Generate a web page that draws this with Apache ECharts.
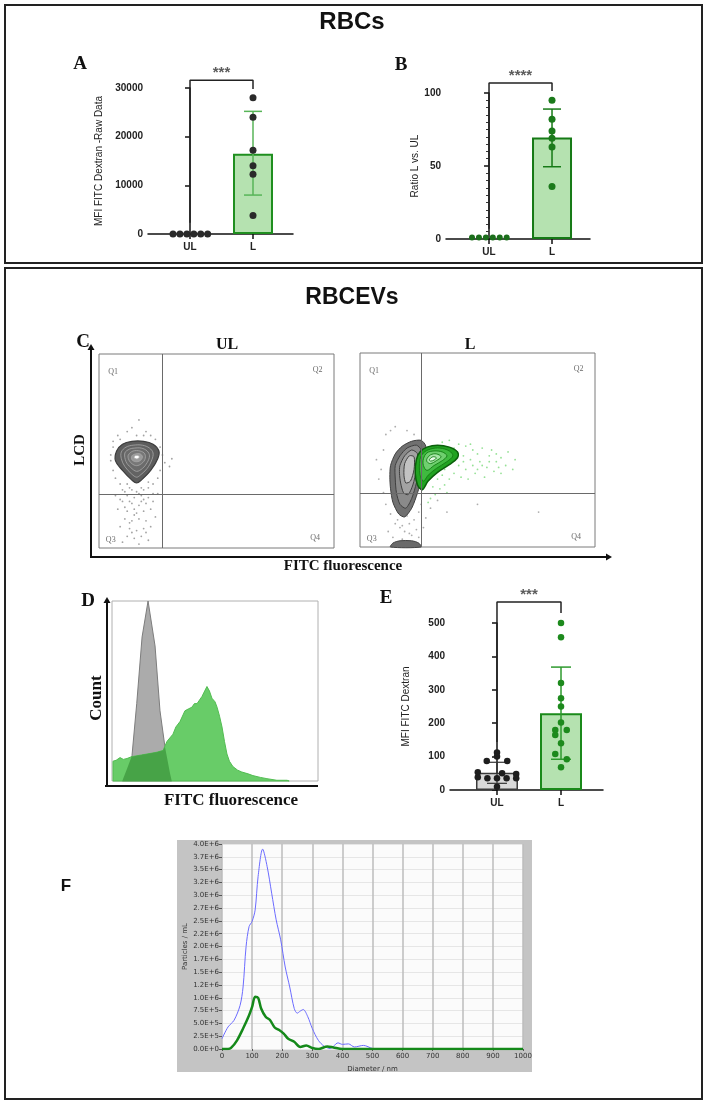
<!DOCTYPE html>
<html>
<head>
<meta charset="utf-8">
<script src="https://cdn.jsdelivr.net/npm/echarts@6/dist/echarts.min.js"></script>
<style>
html, body { margin: 0; padding: 0; background: #fff; }
#main { width: 708px; height: 1105px; }
</style>
</head>
<body>
<div id="main"></div>
<script>
// ---------- data ----------
var groups = ['UL', 'L'];

// A  MFI FITC Dextran - raw data (RBCs)
var aBar = [[1, 16500]];
var aSD = [[1, 8000, 25200]];
var aUL = [[-0.27, 0], [-0.16, 0], [-0.05, 0], [0.06, 0], [0.17, 0], [0.28, 0]];
var aL = [[1, 28000], [1, 24000], [1, 17200], [1, 14000], [1, 12300], [1, 3800]];
var aSig = [[0, 2300], [0, 31600], [1, 31600], [1, 29800]];

// B  ratio L vs UL
var bBar = [[1, 69.5]];
var bSD = [[1, 49.5, 89]];
var bUL = [[-0.27, 1], [-0.16, 1], [-0.05, 1], [0.06, 1], [0.17, 1], [0.28, 1]];
var bL = [[1, 95], [1, 82], [1, 74], [1, 69], [1, 63], [1, 36]];
var bSig = [[0, 7], [0, 106.8], [1, 106.8], [1, 101.4]];

// C  flow plots (0-100 scale)
var ulGate = [26.8, 27.8];
var lGate = [26, 27.8];
var ulContours = [
  [[7.5,50],[10,53.5],[14,55],[19,55],[23,53.5],[25.5,50],[25,46],[22,40],[18,35],[16,33.5],[14,35],[10,40],[7,45]],
  [[9.5,49.5],[11.5,52],[14.5,53],[18.5,53],[21.5,51.5],[23,49],[22.5,45.5],[20.5,41],[17.5,37.5],[16,36.5],[14,38],[11,42],[9.5,46]],
  [[11,49],[13,51],[15,51.5],[18,51.5],[20.5,50],[21.5,47.5],[20.5,44],[18.5,41],[16,39.5],[13.5,41.5],[11.5,44.5]],
  [[12.5,48],[14.5,50],[17.5,50],[19.5,48.5],[19.5,45.5],[17.5,43],[15.5,42.5],[13.5,44],[12.5,46]],
  [[14,47.5],[15.5,48.5],[17.5,48.5],[18.5,47],[17.5,45],[15.5,44.5],[14,45.5]],
  [[15,47.2],[16.2,47.8],[17.2,47],[16.5,46],[15.2,46.2]]
];
var ulDots = [[6,52],[5,45],[6,40],[7,36],[8,58],[9,33],[10,30],[12,60],[14,62],[17,66],[19,58],[22,58],[24,56],[26,52],[27,48],
  [28,44],[30,42],[31,46],[26,40],[25,36],[23,33],[21,31],[19,30],[13,31],[11,29],[5,48],[6,55],[20,60],[16,58],[9,56],
  [12,27],[15,26],[18,27],[21,26],[10,24],[14,23],[17,22],[20,23],[23,24],[8,20],[12,19],[16,18],[19,19],[22,20],[11,15],
  [14,14],[17,15],[20,14],[24,16],[9,11],[13,10],[16,9],[19,10],[22,11],[12,6],[15,5],[18,6],[21,4],[10,3],[17,2],[14,30],
  [16,29],[18,31],[25,28],[7,27],[13,24],[18,24],[15,20],[11,21],[20,8],[14,8],[8,47],[24,44],[12,33],[21,34],[17,28],
  [15,17],[19,25],[13,13],[23,28],[9,25]];
var lGrayContours = [
  [[13,42],[15,48],[18,52],[22,54.5],[26,55],[28,52],[27,45],[26,35],[24.5,28],[22,20],[19,15.5],[16.5,17],[14,23],[13,30],[12.7,36]],
  [[15,42],[17,47],[20,51],[24,52.5],[26,50],[25.5,42],[24,33],[22,25],[19.5,20],[17,22],[15.5,28],[15,35]],
  [[17,42],[19,47],[22,50],[24.5,48],[24,40],[22.5,32],[20.5,27],[18.5,28],[17.3,33],[16.8,38]],
  [[19,43],[21,47],[23,46.5],[23,40],[21.5,34],[19.5,33],[18.7,37]]
];
var lGrayBlob = [[13,0],[14,2],[17,3.2],[22,3.2],[25,2],[26,0]];
var lGreenContours = [
  [[24,45],[25.5,49],[28.5,51.5],[33,52.5],[38,51.5],[41.5,49],[41.5,46],[38,42.5],[33,38.5],[29,34],[26.5,29.5],[24.5,32],[23.5,38]],
  [[25.5,45],[27,48.5],[30,50.5],[34,51],[38,49.5],[39.5,47],[37,44],[32.5,40.5],[29,37],[27,34],[25.5,37.5]],
  [[27,45.5],[28.5,48.5],[31.5,49.5],[35,49],[37,47],[35,44.5],[31.5,42],[28.5,39.5],[27,42]],
  [[28.5,45.5],[30,47.5],[32.5,48],[34.5,46.5],[32.5,44.5],[30,43],[28.5,44]],
  [[29.5,45],[31,46.5],[32.5,46],[31.5,44.8],[30,44.3]]
];
var lGrayDots = [[10,50],[11,58],[13,60],[15,62],[9,40],[8,35],[10,28],[11,22],[13,17],[15,12],[17,10],[19,8],[21,12],[23,14],
  [25,18],[26,22],[27,10],[14,5],[18,4],[22,6],[12,8],[16,14],[20,16],[24,9],[28,15],[30,20],[33,24],[37,18],[20,60],[23,58],
  [7,45],[50,22],[76,18],[18,11],[21,7],[25,5]];
var lGreenDots = [[35,54],[38,55],[42,53],[45,52],[48,50],[50,48],[52,51],[55,47],[58,44],[60,46],[62,42],[65,40],[44,47],
  [47,45],[51,44],[54,41],[57,39],[45,40],[49,38],[42,42],[40,38],[38,35],[36,32],[34,30],[32,27],[30,25],[29,23],[36,40],
  [53,36],[46,35],[60,38],[56,50],[63,49],[66,45],[41,49],[39,46],[43,36],[48,42],[37,28],[31,31],[33,35],[52,42],[55,44],
  [59,41],[50,40],[44,44],[40,51],[47,53],[35,37],[58,48]];

// D  histogram (relative count)
var dGray = [[5,0],[9.7,0.14],[12,0.43],[14.6,0.8],[17.5,1.0],[20.9,0.75],[23.3,0.39],[25.7,0.19],[28.2,0.04],[29,0]];
var dGreen = [[0.5,0.11],[2,0.115],[3.9,0.13],[5.5,0.12],[7.3,0.125],[9.5,0.135],[12,0.14],[14.5,0.145],[17,0.15],
  [19.5,0.155],[21.8,0.16],[24.8,0.17],[26.7,0.22],[29.6,0.26],[31,0.3],[33,0.33],[35.4,0.39],[37,0.4],[38.8,0.41],
  [40,0.43],[41.3,0.43],[42.5,0.45],[43.7,0.47],[45,0.5],[46.1,0.525],[47.3,0.5],[48.5,0.46],[50,0.44],[51,0.41],
  [52.2,0.36],[53.4,0.3],[54.6,0.22],[55.8,0.15],[57,0.11],[58.7,0.08],[61,0.06],[63,0.05],[66,0.04],[68.4,0.03],
  [72,0.02],[75.2,0.013],[80,0.004],[85,0.004],[86,0]];

// E  MFI FITC Dextran (RBCEVs)
var eBar = [[0, 52], [1, 230]];
var eSD = [[0, 20, 83], [1, 92, 368]];
var eUL = [[0,112],[-0.16,87],[0.16,87],[0,100],[-0.3,53],[0.3,48],[-0.3,38],[-0.15,35],[0,35],[0.15,35],[0.3,35],[0.08,50],[0,10]];
var eL = [[1,500],[1,457],[1,320],[1,275],[1,250],[1,202],[0.91,180],[1.09,180],[0.91,165],[1,140],[0.91,108],[1.09,92],[1,68]];
var eSig = [[0, 144], [0, 563], [1, 563], [1, 530]];

// F  NTA size distribution
var fYLabels = ['0.0E+0','2.5E+5','5.0E+5','7.5E+5','1.0E+6','1.2E+6','1.5E+6','1.7E+6','2.0E+6','2.2E+6','2.5E+6',
  '2.7E+6','3.0E+6','3.2E+6','3.5E+6','3.7E+6','4.0E+6'];
var fBlue = [[0,200000],[20,430000],[40,560000],[60,850000],[70,1210000],[80,2000000],[90,2390000],[100,2490000],
  [110,2710000],[120,3370000],[135,3900000],[150,3560000],[165,3040000],[180,2520000],[195,2130000],[210,1600000],
  [225,1210000],[240,790000],[250,700000],[260,740000],[270,770000],[285,630000],[300,400000],[320,170000],[340,50000],
  [360,10000],[385,120000],[400,90000],[420,100000],[440,40000],[470,70000],[500,10000],[520,0],[1000,0]];
var fGreen = [[0,0],[20,0],[30,20000],[50,170000],[70,400000],[90,660000],[100,820000],[110,1020000],[120,1000000],
  [130,790000],[145,630000],[160,560000],[175,420000],[190,370000],[205,300000],[220,200000],[240,140000],[260,40000],
  [280,70000],[300,20000],[320,0],[350,50000],[370,30000],[400,0],[1000,0]];

// ---------- helpers ----------
var SANS = 'Liberation Sans, Arial, sans-serif';
var SERIF = 'Liberation Serif, Times New Roman, serif';

function polySeries(idx, poly, fill, stroke, lw, smooth) {
  return {
    type: 'custom', xAxisIndex: idx, yAxisIndex: idx, data: poly, silent: true, z: 3,
    renderItem: function (params, api) {
      if (params.dataIndex !== 0) return;
      var pts = poly.map(function (p) { return api.coord(p); });
      return { type: 'polygon', shape: { points: pts, smooth: smooth }, style: { fill: fill, stroke: stroke, lineWidth: lw } };
    }
  };
}

function histSeries(idx, pts0, fill, stroke) {
  return {
    type: 'custom', xAxisIndex: idx, yAxisIndex: idx, data: pts0, silent: true,
    renderItem: function (params, api) {
      if (params.dataIndex !== 0) return;
      var pts = [api.coord([pts0[0][0], 0])];
      pts0.forEach(function (p) { pts.push(api.coord(p)); });
      pts.push(api.coord([pts0[pts0.length - 1][0], 0]));
      return { type: 'polygon', shape: { points: pts }, style: { fill: fill, stroke: stroke, lineWidth: 1 } };
    }
  };
}

// linear read of a histogram outline at x
function readAt(arr, x) {
  if (x <= arr[0][0]) return x < arr[0][0] ? 0 : arr[0][1];
  for (var i = 1; i < arr.length; i++) {
    if (x <= arr[i][0]) {
      var t = (x - arr[i - 1][0]) / (arr[i][0] - arr[i - 1][0]);
      return arr[i - 1][1] + t * (arr[i][1] - arr[i - 1][1]);
    }
  }
  return 0;
}
// where the two histograms overlap
var dOverlap = (function () {
  var xs = dGray.map(function (p) { return p[0]; });
  dGreen.forEach(function (p) { if (p[0] > dGray[0][0] && p[0] < dGray[dGray.length - 1][0]) xs.push(p[0]); });
  xs.sort(function (a, b) { return a - b; });
  return xs.map(function (x) { return [x, Math.min(readAt(dGray, x), readAt(dGreen, x))]; });
})();

function errSeries(idx, data, color, cap, lw) {
  return {
    type: 'custom', xAxisIndex: idx, yAxisIndex: idx, data: data, silent: true, z: 4,
    encode: { x: 0, y: [1, 2] },
    renderItem: function (params, api) {
      var x = api.value(0);
      var lo = api.coord([x, api.value(1)]);
      var hi = api.coord([x, api.value(2)]);
      var s = { stroke: color, lineWidth: lw };
      return {
        type: 'group', children: [
          { type: 'line', shape: { x1: lo[0], y1: lo[1], x2: hi[0], y2: hi[1] }, style: s },
          { type: 'line', shape: { x1: hi[0] - cap / 2, y1: hi[1], x2: hi[0] + cap / 2, y2: hi[1] }, style: s },
          { type: 'line', shape: { x1: lo[0] - cap / 2, y1: lo[1], x2: lo[0] + cap / 2, y2: lo[1] }, style: s }
        ]
      };
    }
  };
}

function sigSeries(idx, data, stars) {
  return [{
    type: 'line', xAxisIndex: idx, yAxisIndex: idx, data: data, clip: false, showSymbol: false, silent: true,
    lineStyle: { color: '#222', width: 1.5 }
  }, {
    type: 'scatter', xAxisIndex: idx, yAxisIndex: idx, data: [[0.5, data[1][1]]], symbolSize: 0, clip: false, silent: true,
    label: { show: true, position: 'top', distance: 0, formatter: stars, fontSize: 15, fontWeight: 'bold', color: '#333', fontFamily: SANS }
  }];
}

function dotSeries(idx, data, color, size) {
  return { type: 'scatter', xAxisIndex: idx, yAxisIndex: idx, data: data, symbolSize: size, clip: false, silent: true, z: 5,
    itemStyle: { color: color, opacity: 1 } };
}

function groupXAxis(idx, min, max) {
  return {
    type: 'value', gridIndex: idx, min: min, max: max,
    splitLine: { show: false },
    axisLine: { lineStyle: { color: '#111', width: 1.5 } },
    axisTick: { customValues: [0, 1], length: 5, lineStyle: { color: '#111', width: 1.5 } },
    axisLabel: { customValues: [0, 1], formatter: function (v) { return groups[Math.round(v)]; },
      fontSize: 10, fontWeight: 'bold', color: '#222', fontFamily: SANS, margin: 8 }
  };
}

function valueYAxis(idx, max, interval, name, gap, minor) {
  return {
    type: 'value', gridIndex: idx, min: 0, max: max, interval: interval,
    name: name, nameLocation: 'middle', nameGap: gap,
    nameTextStyle: { fontSize: 10, color: '#222', fontFamily: SANS },
    splitLine: { show: false },
    axisLine: { show: true, lineStyle: { color: '#111', width: 1.5 } },
    axisTick: { show: true, length: 5, lineStyle: { color: '#111', width: 1.5 } },
    minorTick: { show: !!minor, splitNumber: 10, length: 3, lineStyle: { color: '#333' } },
    axisLabel: { fontSize: 10, fontWeight: 'bold', color: '#222', fontFamily: SANS, margin: 5,
      formatter: function (v) { return String(v); } }
  };
}

function hiddenAxis(idx, max) {
  return { type: 'value', gridIndex: idx, min: 0, max: max, show: false, splitLine: { show: false } };
}

function gateSeries(idx, gate) {
  return {
    type: 'scatter', xAxisIndex: idx, yAxisIndex: idx, data: [], silent: true,
    markLine: { silent: true, symbol: 'none', label: { show: false }, animation: false,
      lineStyle: { color: '#6a6a6a', width: 1, type: 'solid' },
      data: [{ xAxis: gate[0] }, { yAxis: gate[1] }] }
  };
}

function quadLabels(idx) {
  return {
    type: 'scatter', xAxisIndex: idx, yAxisIndex: idx, symbolSize: 0, silent: true,
    data: [{ value: [6, 91], name: 'Q1' }, { value: [93, 92], name: 'Q2' }, { value: [5, 4], name: 'Q3' }, { value: [92, 5], name: 'Q4' }],
    label: { show: true, position: 'inside', formatter: '{b}', fontSize: 8, color: '#444', fontFamily: SERIF }
  };
}

// ---------- series ----------
var series = [];

// A
series.push({ type: 'bar', xAxisIndex: 0, yAxisIndex: 0, data: aBar, barWidth: 40, silent: true,
  itemStyle: { color: '#b5e2b0', borderColor: '#1f8f1f', borderWidth: 2 } });
series.push(errSeries(0, aSD, '#58b558', 18, 1.5));
series.push(dotSeries(0, aUL, '#2a2a2a', 7));
series.push(dotSeries(0, aL, '#2a2a2a', 7));
series = series.concat(sigSeries(0, aSig, '***'));

// B
series.push({ type: 'bar', xAxisIndex: 1, yAxisIndex: 1, data: bBar, barWidth: 40, silent: true,
  itemStyle: { color: '#b5e2b0', borderColor: '#167a16', borderWidth: 2 } });
series.push(errSeries(1, bSD, '#167a16', 18, 1.5));
series.push(dotSeries(1, bUL, '#1b6e1b', 6));
series.push(dotSeries(1, bL, '#1b7a1b', 7));
series = series.concat(sigSeries(1, bSig, '****'));

// C - UL
series.push({ type: 'scatter', xAxisIndex: 2, yAxisIndex: 2, data: ulDots, symbolSize: 1.8, silent: true,
  itemStyle: { color: '#8c8c8c' } });
series.push(gateSeries(2, ulGate));
var ulFill = ['#5c5c5c', '#636363', '#6b6b6b', '#777777', '#9a9a9a', '#ffffff'];
ulContours.forEach(function (p, i) {
  series.push(polySeries(2, p, ulFill[i], i === 0 ? '#3d3d3d' : '#a8a8a8', i === 0 ? 1.2 : 0.8, 0.35));
});
series.push(quadLabels(2));

// C - L
series.push({ type: 'scatter', xAxisIndex: 3, yAxisIndex: 3, data: lGrayDots, symbolSize: 1.8, silent: true,
  itemStyle: { color: '#999999' } });
series.push({ type: 'scatter', xAxisIndex: 3, yAxisIndex: 3, data: lGreenDots, symbolSize: 1.8, silent: true,
  itemStyle: { color: '#7cd97c' } });
series.push(gateSeries(3, lGate));
series.push(polySeries(3, lGrayBlob, '#6a6a6a', '#444', 1, 0.3));
var lGrayFill = ['#707070', '#8a8a8a', '#a3a3a3', '#c2c2c2'];
lGrayContours.forEach(function (p, i) {
  series.push(polySeries(3, p, lGrayFill[i], '#3f3f3f', 1, 0.25));
});
var lGreenFill = ['#21a321', '#3fba3f', '#6fcf6f', '#a8e6a8', '#eafaea'];
lGreenContours.forEach(function (p, i) {
  series.push(polySeries(3, p, lGreenFill[i], i === 0 ? '#0b5f0b' : '#137a13', i === 0 ? 1.5 : 0.9, 0.35));
});
series.push(quadLabels(3));

// D
series.push(histSeries(4, dGray, '#ababab', '#7d7d7d'));
series.push(histSeries(4, dGreen, '#68cc68', '#52bd52'));
series.push(histSeries(4, dOverlap, '#47a347', null));

// E
series.push({ type: 'bar', xAxisIndex: 5, yAxisIndex: 5, barWidth: 42, silent: true,
  data: [
    { value: eBar[0], itemStyle: { color: '#d9d9d9', borderColor: '#3a3a3a', borderWidth: 1.5 } },
    { value: eBar[1], itemStyle: { color: '#b5e2b0', borderColor: '#1a8a1a', borderWidth: 2 } }
  ] });
series.push(errSeries(5, [eSD[0]], '#333', 20, 1.2));
series.push(errSeries(5, [eSD[1]], '#2e9a2e', 20, 1.5));
series.push(dotSeries(5, eUL, '#1e1e1e', 6.5));
series.push(dotSeries(5, eL, '#1d8a1d', 6.5));
series = series.concat(sigSeries(5, eSig, '***'));

// F
series.push({ type: 'line', xAxisIndex: 6, yAxisIndex: 6, data: fBlue, smooth: 0.3, showSymbol: false, silent: true,
  lineStyle: { color: '#6b6bff', width: 1 } });
series.push({ type: 'line', xAxisIndex: 6, yAxisIndex: 6, data: fGreen, smooth: 0.3, showSymbol: false, silent: true,
  lineStyle: { color: '#15891a', width: 2.5 } });

// ---------- decoration ----------
function txt(x, y, text, font, rot) {
  return { type: 'text', x: x, y: y, rotation: rot || 0, silent: true, z: 10,
    style: { text: text, font: font, fill: '#111', textAlign: 'center', textVerticalAlign: 'middle' } };
}
function arrow(x1, y1, x2, y2, head) {
  var els = [{ type: 'line', silent: true, z: 10, shape: { x1: x1, y1: y1, x2: x2, y2: y2 }, style: { stroke: '#111', lineWidth: 2 } }];
  if (head) {
    var dx = x2 - x1, dy = y2 - y1, l = Math.sqrt(dx * dx + dy * dy), ux = dx / l, uy = dy / l;
    els.push({ type: 'polygon', silent: true, z: 10, shape: { points: [
      [x2 + ux * 6, y2 + uy * 6], [x2 - uy * 3.5, y2 + ux * 3.5], [x2 + uy * 3.5, y2 - ux * 3.5]] }, style: { fill: '#111' } });
  }
  return els;
}

var graphic = [
  { type: 'rect', silent: true, z: 10, shape: { x: 5, y: 5, width: 697, height: 258 }, style: { fill: null, stroke: '#222', lineWidth: 2 } },
  { type: 'rect', silent: true, z: 10, shape: { x: 5, y: 268, width: 697, height: 831 }, style: { fill: null, stroke: '#222', lineWidth: 2 } },
  { type: 'rect', silent: true, z: -10, shape: { x: 177, y: 840, width: 355, height: 232 }, style: { fill: '#c4c4c4' } },
  txt(352, 22, 'RBCs', 'bold 24px ' + SANS),
  txt(352, 298, 'RBCEVs', 'bold 23px ' + SANS),
  txt(80, 64, 'A', 'bold 19px ' + SERIF),
  txt(401, 65, 'B', 'bold 19px ' + SERIF),
  txt(83, 342, 'C', 'bold 19px ' + SERIF),
  txt(88, 601, 'D', 'bold 19px ' + SERIF),
  txt(386, 598, 'E', 'bold 19px ' + SERIF),
  txt(66, 886, 'F', 'bold 17px ' + SANS),
  txt(227, 345, 'UL', 'bold 16px ' + SERIF),
  txt(470, 345, 'L', 'bold 16px ' + SERIF),
  txt(80, 450, 'LCD', 'bold 15px ' + SERIF, Math.PI / 2),
  txt(343, 566, 'FITC fluorescence', 'bold 15px ' + SERIF),
  txt(97, 698, 'Count', 'bold 17px ' + SERIF, Math.PI / 2),
  txt(231, 801, 'FITC fluorescence', 'bold 17px ' + SERIF)
].concat(arrow(91, 557, 91, 350, true), arrow(90, 557, 606, 557, true), arrow(107, 787, 107, 603, true), arrow(105, 786, 318, 786, false));

// ---------- chart ----------
var chart = echarts.init(document.getElementById('main'));
var option = {
  animation: false,
  backgroundColor: '#fff',
  grid: [
    { left: 148, top: 88, width: 145, height: 146 },
    { left: 446, top: 93, width: 144, height: 146 },
    { left: 99, top: 354, width: 235, height: 194, show: true, borderColor: '#7a7a7a', borderWidth: 1 },
    { left: 360, top: 353, width: 235, height: 194, show: true, borderColor: '#7a7a7a', borderWidth: 1 },
    { left: 112, top: 601, width: 206, height: 180, show: true, borderColor: '#b0b0b0', borderWidth: 1 },
    { left: 450, top: 623, width: 153, height: 167 },
    { left: 222, top: 844, width: 301, height: 205, show: true, backgroundColor: '#fbfbfb', borderWidth: 0 }
  ],
  xAxis: [
    groupXAxis(0, -0.667, 1.635),
    groupXAxis(1, -0.683, 1.603),
    hiddenAxis(2, 100),
    hiddenAxis(3, 100),
    hiddenAxis(4, 100),
    groupXAxis(5, -0.734, 1.656),
    {
      type: 'value', gridIndex: 6, min: 0, max: 1000, interval: 100,
      name: 'Diameter / nm', nameLocation: 'middle', nameGap: 17,
      nameTextStyle: { fontSize: 7, color: '#333', fontFamily: 'DejaVu Sans' },
      axisLine: { show: false },
      axisTick: { show: true, length: 2, lineStyle: { color: '#555' } },
      axisLabel: { fontSize: 7, color: '#333', fontFamily: 'DejaVu Sans', margin: 4,
        formatter: function (v) { return String(v); } },
      splitLine: { show: true, lineStyle: { color: '#bdbdbd', width: 1.5 } }
    }
  ],
  yAxis: [
    valueYAxis(0, 30000, 10000, 'MFI FITC Dextran -Raw Data', 44, false),
    valueYAxis(1, 100, 50, 'Ratio L vs. UL', 26, true),
    hiddenAxis(2, 100),
    hiddenAxis(3, 100),
    hiddenAxis(4, 1),
    valueYAxis(5, 500, 100, 'MFI FITC Dextran', 39, false),
    {
      type: 'value', gridIndex: 6, min: 0, max: 4000000, interval: 250000,
      name: 'Particles / mL', nameLocation: 'middle', nameGap: 33,
      nameTextStyle: { fontSize: 7, color: '#333', fontFamily: 'DejaVu Sans' },
      axisLine: { show: false },
      axisTick: { show: true, length: 3, lineStyle: { color: '#555' } },
      axisLabel: { fontSize: 7, color: '#333', fontFamily: 'DejaVu Sans', margin: 3,
        formatter: function (v) { return fYLabels[Math.round(v / 250000)]; } },
      splitLine: { show: true, lineStyle: { color: '#e6e6e6', width: 1 } }
    }
  ],
  graphic: graphic,
  series: series
};
chart.setOption(option);
</script>
</body>
</html>
